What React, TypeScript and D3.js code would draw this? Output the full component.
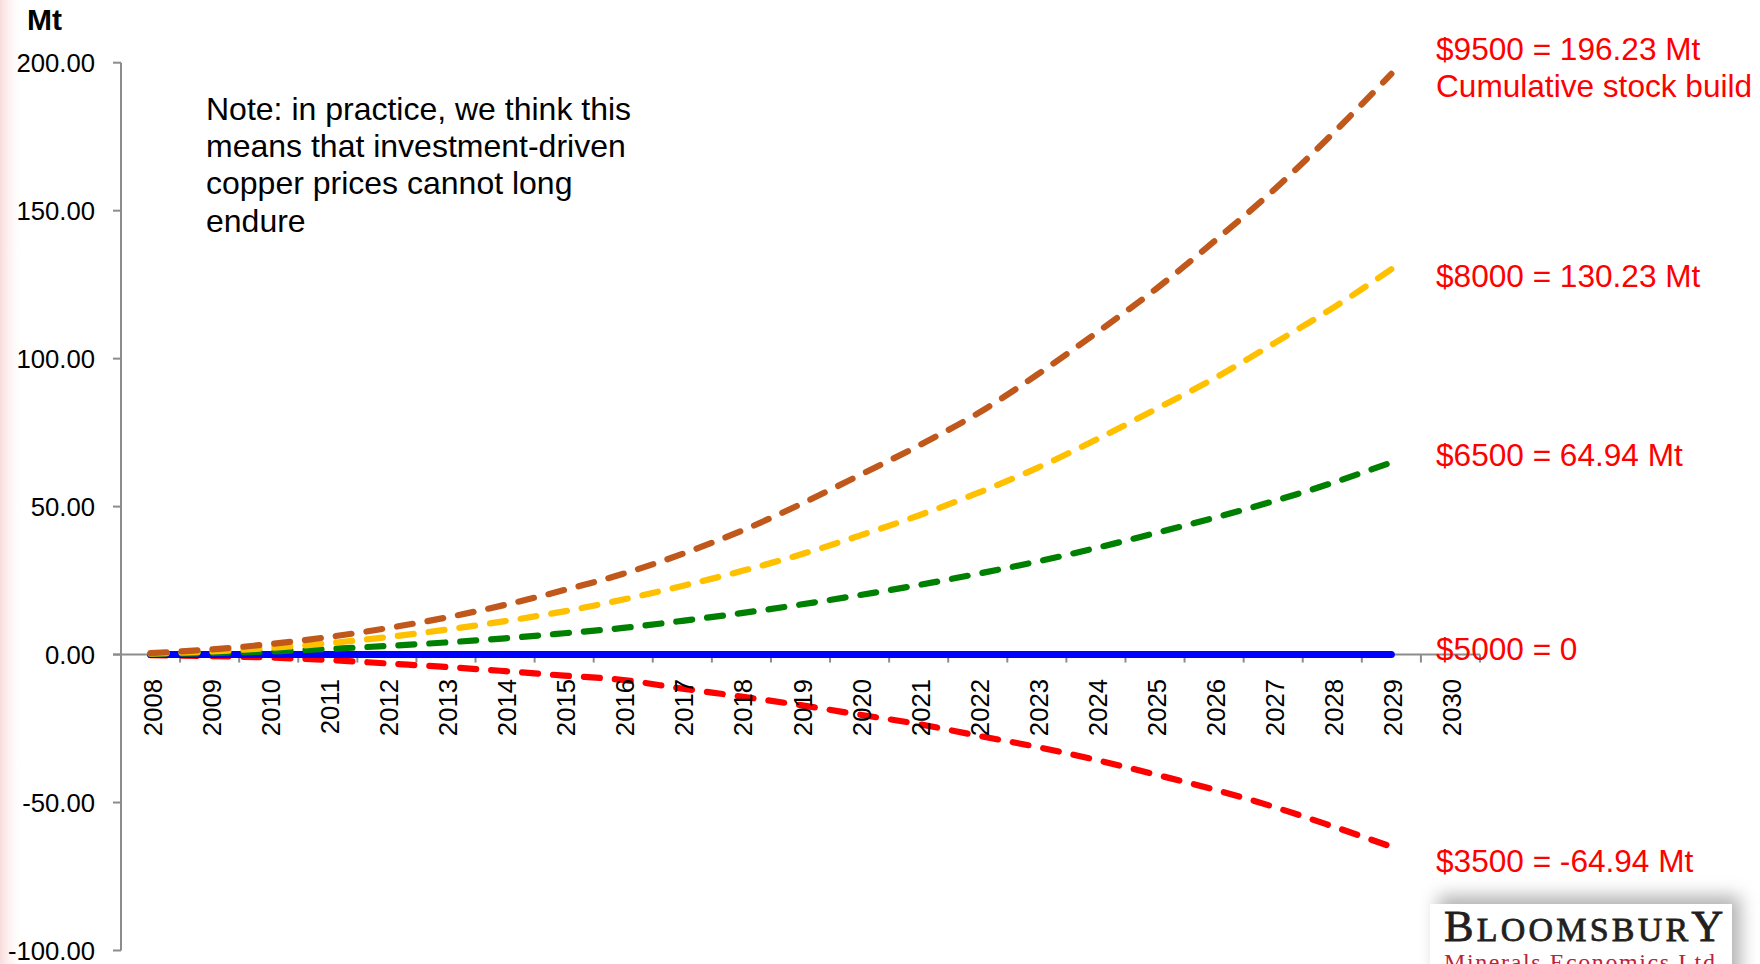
import React from "react";
import * as d3 from "d3";

// Category axis: one band per year, the last band (2030) carries no data
const years = [
  "2008", "2009", "2010", "2011", "2012", "2013", "2014", "2015", "2016", "2017", "2018",
  "2019", "2020", "2021", "2022", "2023", "2024", "2025", "2026", "2027", "2028", "2029", "2030",
];

// Cumulative stock build (Mt) by copper price scenario, 2008–2029
const price9500 = [0.5, 1.7, 3.5, 5.9, 8.9, 12.5, 16.8, 21.8, 27.3, 34.0, 41.8, 50.8, 60.6, 70.6, 81.5, 94.5, 108.6, 123.3, 139.6, 156.8, 175.9, 196.23];
const price8000 = [0.3, 1.0, 2.2, 3.8, 5.9, 8.4, 11.3, 14.6, 18.6, 23.2, 28.2, 33.8, 40.2, 47.0, 54.6, 63.0, 72.6, 82.8, 93.3, 105.0, 117.0, 130.23];
const price6500 = [0.2, 0.5, 1.0, 1.9, 2.9, 4.1, 5.5, 7.2, 9.0, 11.4, 14.0, 16.9, 20.1, 23.5, 27.3, 31.4, 36.0, 41.0, 46.2, 51.8, 58.0, 64.94];
const price5000 = [0, 0, 0, 0, 0, 0, 0, 0, 0, 0, 0, 0, 0, 0, 0, 0, 0, 0, 0, 0, 0, 0];
const price3500 = [-0.2, -0.5, -1.0, -1.8, -3.0, -4.2, -5.6, -7.1, -8.6, -11.5, -14.2, -17.1, -20.3, -23.5, -27.4, -31.2, -35.6, -40.5, -45.6, -51.4, -58.0, -64.94];

const yTicks = [200, 150, 100, 50, 0, -50, -100];

// Scenario end labels
const endLabels = [
  { lines: ["$9500 = 196.23 Mt", "Cumulative stock build"], value: 196.23 },
  { lines: ["$8000 = 130.23 Mt"], value: 130.23 },
  { lines: ["$6500 = 64.94 Mt"], value: 64.94 },
  { lines: ["$5000 = 0"], value: 0 },
  { lines: ["$3500 = -64.94 Mt"], value: -64.94 },
];

const noteLines = [
  "Note: in practice, we think this",
  "means that investment-driven",
  "copper prices cannot long",
  "endure",
];

const W = 1760;
const H = 964;
const SANS = "'Liberation Sans', Arial, Helvetica, sans-serif";
const SERIF = "'Liberation Serif', 'Times New Roman', serif";
const AXIS = "#8c8c8c";

const fmt = (v: number) => d3.format(".2f")(v).replace("\u2212", "-");

export default function App() {
  const x = d3.scaleBand<string>().domain(years).range([121, 1480]).paddingInner(0).paddingOuter(0);
  const y = d3.scaleLinear().domain([-100, 200]).range([950.5, 62.7]);
  const cx = (i: number) => (x(years[i]) as number) + x.bandwidth() / 2;

  const line = d3
    .line<number>()
    .x((_, i) => cx(i))
    .y((d) => y(d))
    .curve(d3.curveMonotoneX);

  const upper = [
    { data: price6500, color: "#008000" },
    { data: price8000, color: "#FFC000" },
    { data: price9500, color: "#C0581C" },
  ];

  const y0 = y(0);
  const xEnd = x.range()[1];
  const tickXs = years.slice(1).map((yr) => x(yr) as number).concat([xEnd]);

  // baselines of the scenario labels on the right
  const labelBaselines = [60, 286.7, 466, 660, 872];

  const dashProps = {
    fill: "none",
    strokeWidth: 6.2,
    strokeDasharray: "16 15",
    strokeLinecap: "round" as const,
  };

  return (
    <svg
      width={W}
      height={H}
      viewBox={`0 0 ${W} ${H}`}
      style={{ position: "absolute", left: 0, top: 0, display: "block", background: "#fff" }}
    >
      <defs>
        <linearGradient id="edgeTint" x1="0" x2="1" y1="0" y2="0">
          <stop offset="0" stopColor="#f9dcdc" />
          <stop offset="1" stopColor="#ffffff" stopOpacity="0" />
        </linearGradient>
        <filter id="logoShadow" x="-20%" y="-60%" width="140%" height="220%">
          <feGaussianBlur stdDeviation="9" />
        </filter>
      </defs>

      <rect x={0} y={0} width={W} height={H} fill="#ffffff" />
      <rect x={0} y={0} width={24} height={H} fill="url(#edgeTint)" />

      {/* unit label */}
      <text x={27} y={30} fontFamily={SANS} fontWeight="bold" fontSize={30} fill="#000">
        Mt
      </text>

      {/* y axis */}
      <line x1={121} x2={121} y1={y(200)} y2={y(-100)} stroke={AXIS} strokeWidth={2} />
      {yTicks.map((t) => (
        <g key={t}>
          <line x1={113} x2={121} y1={y(t)} y2={y(t)} stroke={AXIS} strokeWidth={2} />
          <text
            x={95}
            y={y(t) + 9.2}
            textAnchor="end"
            fontFamily={SANS}
            fontSize={25.7}
            fill="#000"
          >
            {fmt(t)}
          </text>
        </g>
      ))}

      {/* x axis at zero */}
      <line x1={113} x2={xEnd} y1={y0} y2={y0} stroke={AXIS} strokeWidth={2} />
      {tickXs.map((tx, i) => (
        <line key={i} x1={tx} x2={tx} y1={y0} y2={y0 + 8} stroke={AXIS} strokeWidth={2} />
      ))}

      {/* scenario series */}
      <path d={line(price3500) || ""} stroke="#FF0000" {...dashProps} />
      <path
        d={line(price5000) || ""}
        fill="none"
        stroke="#0000FF"
        strokeWidth={7}
        strokeLinecap="round"
      />
      {upper.map((s, k) => (
        <path key={k} d={line(s.data) || ""} stroke={s.color} {...dashProps} />
      ))}

      {/* year labels */}
      {years.map((yr, i) => (
        <text
          key={yr}
          transform={`translate(${cx(i) + 11},679) rotate(-90)`}
          textAnchor="end"
          fontFamily={SANS}
          fontSize={25.7}
          fill="#000"
        >
          {yr}
        </text>
      ))}

      {/* note */}
      <text fontFamily={SANS} fontSize={32} fill="#000">
        {noteLines.map((l, i) => (
          <tspan key={i} x={206} y={120 + i * 37.2}>
            {l}
          </tspan>
        ))}
      </text>

      {/* scenario labels */}
      {endLabels.map((lab, k) => (
        <text key={k} fontFamily={SANS} fontSize={31.6} fill="#FF0000">
          {lab.lines.map((l, i) => (
            <tspan key={i} x={1436} y={labelBaselines[k] + i * 37.3}>
              {l}
            </tspan>
          ))}
        </text>
      ))}

      {/* logo */}
      <g>
        <rect x={1438} y={896} width={302} height={90} fill="#7a7a7a" opacity={0.6} filter="url(#logoShadow)" />
        <rect x={1430} y={904} width={302} height={80} fill="#ffffff" />
        <text
          x={1444}
          y={941}
          fontFamily={SERIF}
          fill="#231f20"
          stroke="#231f20"
          strokeWidth={0.8}
          letterSpacing={3.2}
        >
          <tspan fontSize={44.3}>B</tspan>
          <tspan fontSize={34}>LOOMSBUR</tspan>
          <tspan fontSize={44.3}>Y</tspan>
        </text>
        <text
          x={1444}
          y={970}
          fontFamily={SERIF}
          fontSize={24}
          fill="#c0203c"
          letterSpacing={1.6}
        >
          Minerals Economics Ltd
        </text>
      </g>
    </svg>
  );
}
